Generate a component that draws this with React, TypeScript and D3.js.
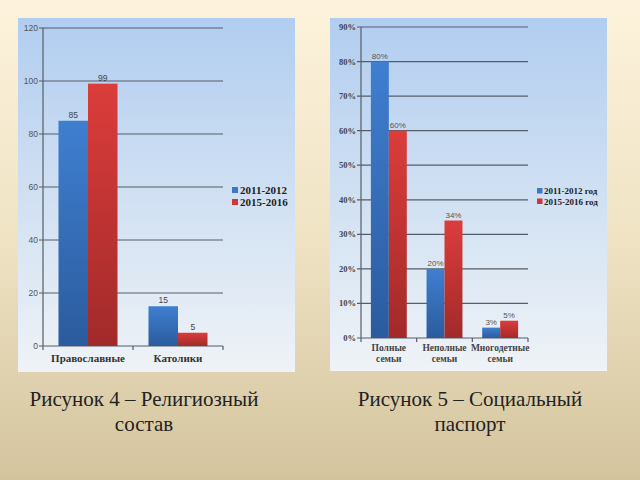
import { useEffect, useRef } from "react"
import * as d3 from "d3"

// Figure 4 data
const religionCats = ["Православные", "Католики"]
const religionSeries = ["2011-2012", "2015-2016"]
const religion2011 = [85, 15]
const religion2015 = [99, 5]
const religionTicks = [0, 20, 40, 60, 80, 100, 120]

// Figure 5 data
const familyCats = [["Полные", "семьи"], ["Неполные", "семьи"], ["Многодетные", "семьи"]]
const familySeries = ["2011-2012 год", "2015-2016 год"]
const family2011 = [0.8, 0.2, 0.03]
const family2015 = [0.6, 0.34, 0.05]
const familyTicks = [0, 0.1, 0.2, 0.3, 0.4, 0.5, 0.6, 0.7, 0.8, 0.9]

const captions = [
  ["Рисунок 4 – Религиозный", "состав"],
  ["Рисунок 5 – Социальный", "паспорт"],
]

const SERIF = "'Liberation Serif', 'Times New Roman', serif"
const SANS = "'Liberation Sans', Arial, sans-serif"
const GRID = "#565d66"

export default function App() {
  const svgRef = useRef<SVGSVGElement | null>(null)

  useEffect(() => {
    if (!svgRef.current) return
    const svg = d3.select(svgRef.current)
    svg.selectAll("*").remove()

    const defs = svg.append("defs")
    const vgrad = (id: string, stops: [number, string][]) => {
      const g = defs.append("linearGradient").attr("id", id).attr("x1", 0).attr("y1", 0).attr("x2", 0).attr("y2", 1)
      stops.forEach(([o, c]) => g.append("stop").attr("offset", o).attr("stop-color", c))
    }
    vgrad("page", [[0, "#fdf3dc"], [0.5, "#efe3c4"], [1, "#d4c49e"]])
    vgrad("panel", [[0, "#b1cdf0"], [0.55, "#d3e2f3"], [1, "#eff3f7"]])
    vgrad("blue", [[0, "#3f7fd0"], [1, "#2b5b9e"]])
    vgrad("red", [[0, "#db3d3b"], [1, "#a22a2a"]])
    const colors = ["url(#blue)", "url(#red)"]
    const legendColors = ["#3a78c8", "#d03636"]

    svg.append("rect").attr("width", 640).attr("height", 480).attr("fill", "url(#page)")

    // ---------- Figure 4 ----------
    svg.append("rect").attr("x", 18).attr("y", 18).attr("width", 277).attr("height", 354).attr("fill", "url(#panel)")

    const y1 = d3.scaleLinear().domain([0, 120]).range([346, 28])
    const x1 = d3.scaleBand().domain(religionCats).range([43, 223])
    const x1s = d3.scaleBand().domain(religionSeries).range([0, x1.bandwidth()]).paddingOuter(0.525)
    const g1 = svg.append("g")

    religionTicks.forEach((t) => {
      g1.append("line").attr("x1", 39).attr("x2", 223).attr("y1", y1(t)).attr("y2", y1(t))
        .attr("stroke", GRID).attr("stroke-width", 1.2)
      g1.append("text").attr("x", 38).attr("y", y1(t) + 3).attr("text-anchor", "end")
        .attr("font-family", SANS).attr("font-size", 8.5).attr("fill", "#555").text(t)
    })
    g1.append("line").attr("x1", 43).attr("x2", 43).attr("y1", y1(120)).attr("y2", y1(0))
      .attr("stroke", GRID).attr("stroke-width", 1.2)
    ;[43, 133, 223].forEach((x) => {
      g1.append("line").attr("x1", x).attr("x2", x).attr("y1", y1(0)).attr("y2", y1(0) + 4)
        .attr("stroke", GRID).attr("stroke-width", 1.2)
    })

    const rel = [religion2011, religion2015]
    religionCats.forEach((c, i) => {
      religionSeries.forEach((s, k) => {
        const v = rel[k][i]
        const x = (x1(c) ?? 0) + (x1s(s) ?? 0)
        g1.append("rect").attr("x", x).attr("y", y1(v)).attr("width", x1s.bandwidth())
          .attr("height", y1(0) - y1(v)).attr("fill", colors[k])
        g1.append("text").attr("x", x + x1s.bandwidth() / 2).attr("y", y1(v) - 3).attr("text-anchor", "middle")
          .attr("font-family", SANS).attr("font-size", 8.5).attr("fill", "#444").text(v)
      })
      g1.append("text").attr("x", (x1(c) ?? 0) + x1.bandwidth() / 2).attr("y", 362).attr("text-anchor", "middle")
        .attr("font-family", SERIF).attr("font-weight", "bold").attr("font-size", 11).attr("fill", "#333").text(c)
    })

    religionSeries.forEach((s, k) => {
      const yy = 190 + k * 12
      g1.append("rect").attr("x", 232).attr("y", yy - 3).attr("width", 6).attr("height", 6).attr("fill", legendColors[k])
      g1.append("text").attr("x", 240).attr("y", yy + 4).attr("font-family", SERIF).attr("font-weight", "bold")
        .attr("font-size", 11).attr("fill", "#222").text(s)
    })

    // ---------- Figure 5 ----------
    svg.append("rect").attr("x", 330).attr("y", 18).attr("width", 277).attr("height", 353).attr("fill", "url(#panel)")

    const y2 = d3.scaleLinear().domain([0, 0.9]).range([338, 27])
    const catKeys = familyCats.map((c) => c.join(" "))
    const x2 = d3.scaleBand().domain(catKeys).range([361, 528])
    const x2s = d3.scaleBand().domain(familySeries).range([0, x2.bandwidth()]).paddingOuter(0.55)
    const g2 = svg.append("g")

    familyTicks.forEach((t) => {
      g2.append("line").attr("x1", 357).attr("x2", 528).attr("y1", y2(t)).attr("y2", y2(t))
        .attr("stroke", GRID).attr("stroke-width", 1.2)
      g2.append("text").attr("x", 356).attr("y", y2(t) + 3).attr("text-anchor", "end")
        .attr("font-family", SERIF).attr("font-weight", "bold").attr("font-size", 8.5).attr("fill", "#444")
        .text(d3.format(".0%")(t))
    })
    g2.append("line").attr("x1", 361).attr("x2", 361).attr("y1", y2(0.9)).attr("y2", y2(0))
      .attr("stroke", GRID).attr("stroke-width", 1.2)
    ;[361, 361 + x2.bandwidth(), 361 + 2 * x2.bandwidth(), 528].forEach((x) => {
      g2.append("line").attr("x1", x).attr("x2", x).attr("y1", y2(0)).attr("y2", y2(0) + 4)
        .attr("stroke", GRID).attr("stroke-width", 1.2)
    })

    const fam = [family2011, family2015]
    catKeys.forEach((c, i) => {
      familySeries.forEach((s, k) => {
        const v = fam[k][i]
        const x = (x2(c) ?? 0) + (x2s(s) ?? 0)
        g2.append("rect").attr("x", x).attr("y", y2(v)).attr("width", x2s.bandwidth())
          .attr("height", y2(0) - y2(v)).attr("fill", colors[k])
        g2.append("text").attr("x", x + x2s.bandwidth() / 2).attr("y", y2(v) - 3).attr("text-anchor", "middle")
          .attr("font-family", SANS).attr("font-size", 8).attr("fill", "#555").text(d3.format(".0%")(v))
      })
      familyCats[i].forEach((line, j) => {
        g2.append("text").attr("x", (x2(c) ?? 0) + x2.bandwidth() / 2).attr("y", 351 + j * 11).attr("text-anchor", "middle")
          .attr("font-family", SERIF).attr("font-weight", "bold").attr("font-size", 9.5).attr("fill", "#444").text(line)
      })
    })

    familySeries.forEach((s, k) => {
      const yy = 191 + k * 10.5
      g2.append("rect").attr("x", 537).attr("y", yy - 3).attr("width", 5.5).attr("height", 5.5).attr("fill", legendColors[k])
      g2.append("text").attr("x", 544).attr("y", yy + 3).attr("font-family", SERIF).attr("font-weight", "bold")
        .attr("font-size", 9).attr("fill", "#222").text(s)
    })

    // ---------- Captions ----------
    const capX = [144, 470]
    captions.forEach((lines, i) => {
      lines.forEach((t, j) => {
        svg.append("text").attr("x", capX[i]).attr("y", 406 + j * 25).attr("text-anchor", "middle")
          .attr("font-family", SERIF).attr("font-size", 21).attr("fill", "#222").text(t)
      })
    })
  }, [])

  return (
    <div style={{ position: "fixed", left: 0, top: 0 }}>
      <svg ref={svgRef} width={640} height={480} style={{ display: "block" }}></svg>
    </div>
  )
}
